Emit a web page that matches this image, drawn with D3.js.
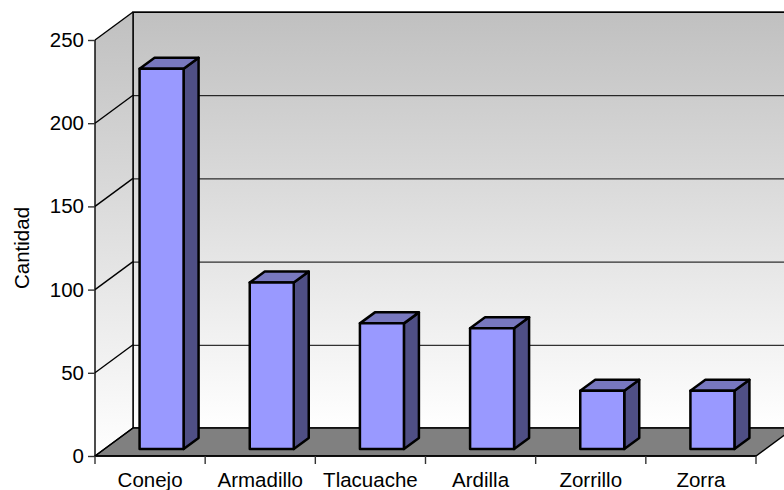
<!DOCTYPE html>
<html><head><meta charset="utf-8">
<script src="https://cdn.jsdelivr.net/npm/d3@7"></script>
<style>html,body{margin:0;padding:0;background:#fff;overflow:hidden}svg{display:block}text{font-family:"Liberation Sans",Arial,sans-serif;fill:#000}</style>
</head><body><div id="c"></div>
<script>
const categories=["Conejo","Armadillo","Tlacuache","Ardilla","Zorrillo","Zorra"];
const values=[228.5,100,75.5,72.5,35,35];
const yTicks=[0,50,100,150,200,250];
const W=784,H=490,dx=38,dy=-28,bdx=15,bdy=-11,bw=44,fs=20.5;
const svg=d3.select("#c").append("svg").attr("width",W).attr("height",H);
const y=d3.scaleLinear().domain([0,250]).range([456,40]);
const x=d3.scaleBand().domain(categories).range([95,756]);
const defs=svg.append("defs");
const g=defs.append("linearGradient").attr("id","wall").attr("x1",0).attr("y1",0).attr("x2",0).attr("y2",1);
g.append("stop").attr("offset",0).attr("stop-color","#c0c0c0");
g.append("stop").attr("offset",1).attr("stop-color","#ffffff");
const g2=defs.append("linearGradient").attr("id","side").attr("gradientUnits","userSpaceOnUse").attr("x1",0).attr("y1",y(250)+dy).attr("x2",0).attr("y2",y(0));
g2.append("stop").attr("offset",0).attr("stop-color","#c0c0c0");
g2.append("stop").attr("offset",1).attr("stop-color","#ffffff");
const p=a=>"M"+a.map(d=>d.join(",")).join("L")+"Z";
const x0=x.range()[0],x1=x.range()[1],lw=1.4;
// walls
svg.append("rect").attr("x",x0+dx).attr("y",y(250)+dy).attr("width",x1-x0).attr("height",y(0)-y(250)).attr("fill","url(#wall)").attr("stroke","#000").attr("stroke-width",lw);
svg.append("path").attr("d",p([[x0,y(250)],[x0+dx,y(250)+dy],[x0+dx,y(0)+dy],[x0,y(0)]])).attr("fill","url(#side)").attr("stroke","none");
// floor
svg.append("path").attr("d",p([[x0,y(0)],[x1,y(0)],[x1+dx,y(0)+dy],[x0+dx,y(0)+dy]])).attr("fill","#808080").attr("stroke","#000").attr("stroke-width",lw);
// grid
yTicks.forEach(t=>{
  if(t>0)svg.append("line").attr("x1",x0+dx).attr("x2",x1+dx).attr("y1",y(t)+dy+.5).attr("y2",y(t)+dy+.5).attr("stroke","#000");
  svg.append("line").attr("x1",x0).attr("x2",x0+dx).attr("y1",y(t)).attr("y2",y(t)+dy).attr("stroke","#000").attr("stroke-width",lw);
});
svg.append("line").attr("x1",x0+dx).attr("x2",x0+dx).attr("y1",y(250)+dy).attr("y2",y(0)+dy).attr("stroke","#000").attr("stroke-width",lw);
// axes
const ay=svg.append("g").attr("transform",`translate(${x0},0)`).call(d3.axisLeft(y).tickValues(yTicks).tickSize(7).tickPadding(4));
ay.selectAll("path").attr("d",`M0,${y(250)}V${y(0)}`).attr("stroke","#000").attr("stroke-width",lw);
ay.selectAll("line").attr("stroke","#333").attr("stroke-width",lw);
ay.selectAll("text").attr("font-size",fs).attr("font-family",null);
ay.attr("font-family",null);
const ax=svg.append("g").attr("transform","translate(0,456)");
ax.append("line").attr("x1",x0).attr("x2",x1).attr("stroke","#000").attr("stroke-width",lw);
categories.concat([null]).forEach((c,i)=>{
  const tx=c?x(c):x1;
  ax.append("line").attr("x1",tx).attr("x2",tx).attr("y1",0).attr("y2",8).attr("stroke","#333").attr("stroke-width",lw);
  if(c)ax.append("text").attr("x",tx+x.bandwidth()/2).attr("y",31).attr("text-anchor","middle").attr("font-size",fs).text(c);
});
// bars
const bars=svg.append("g").selectAll("g").data(categories.map((c,i)=>({c,v:values[i]}))).join("g")
 .attr("stroke","#000").attr("stroke-width",2.5).attr("stroke-linejoin","round");
const bx=d=>x(d.c)+x.bandwidth()/2-10.5;
const by0=y(0)-7;
const ty=d=>by0-(y(0)-y(d.v));
bars.append("path").attr("fill","#4f4f85").attr("d",d=>{const a=bx(d)+bw,t=ty(d);return p([[a,t],[a+bdx,t+bdy],[a+bdx,by0+bdy],[a,by0]])});
bars.append("path").attr("fill","#7878bf").attr("d",d=>{const a=bx(d),t=ty(d);return p([[a,t],[a+bw,t],[a+bw+bdx,t+bdy],[a+bdx,t+bdy]])});
bars.append("rect").attr("fill","#9999ff").attr("x",bx).attr("y",ty).attr("width",bw).attr("height",d=>by0-ty(d));
svg.append("text").attr("transform","translate(29,248) rotate(-90)").attr("text-anchor","middle").attr("font-size",fs).text("Cantidad");
</script></body></html>
